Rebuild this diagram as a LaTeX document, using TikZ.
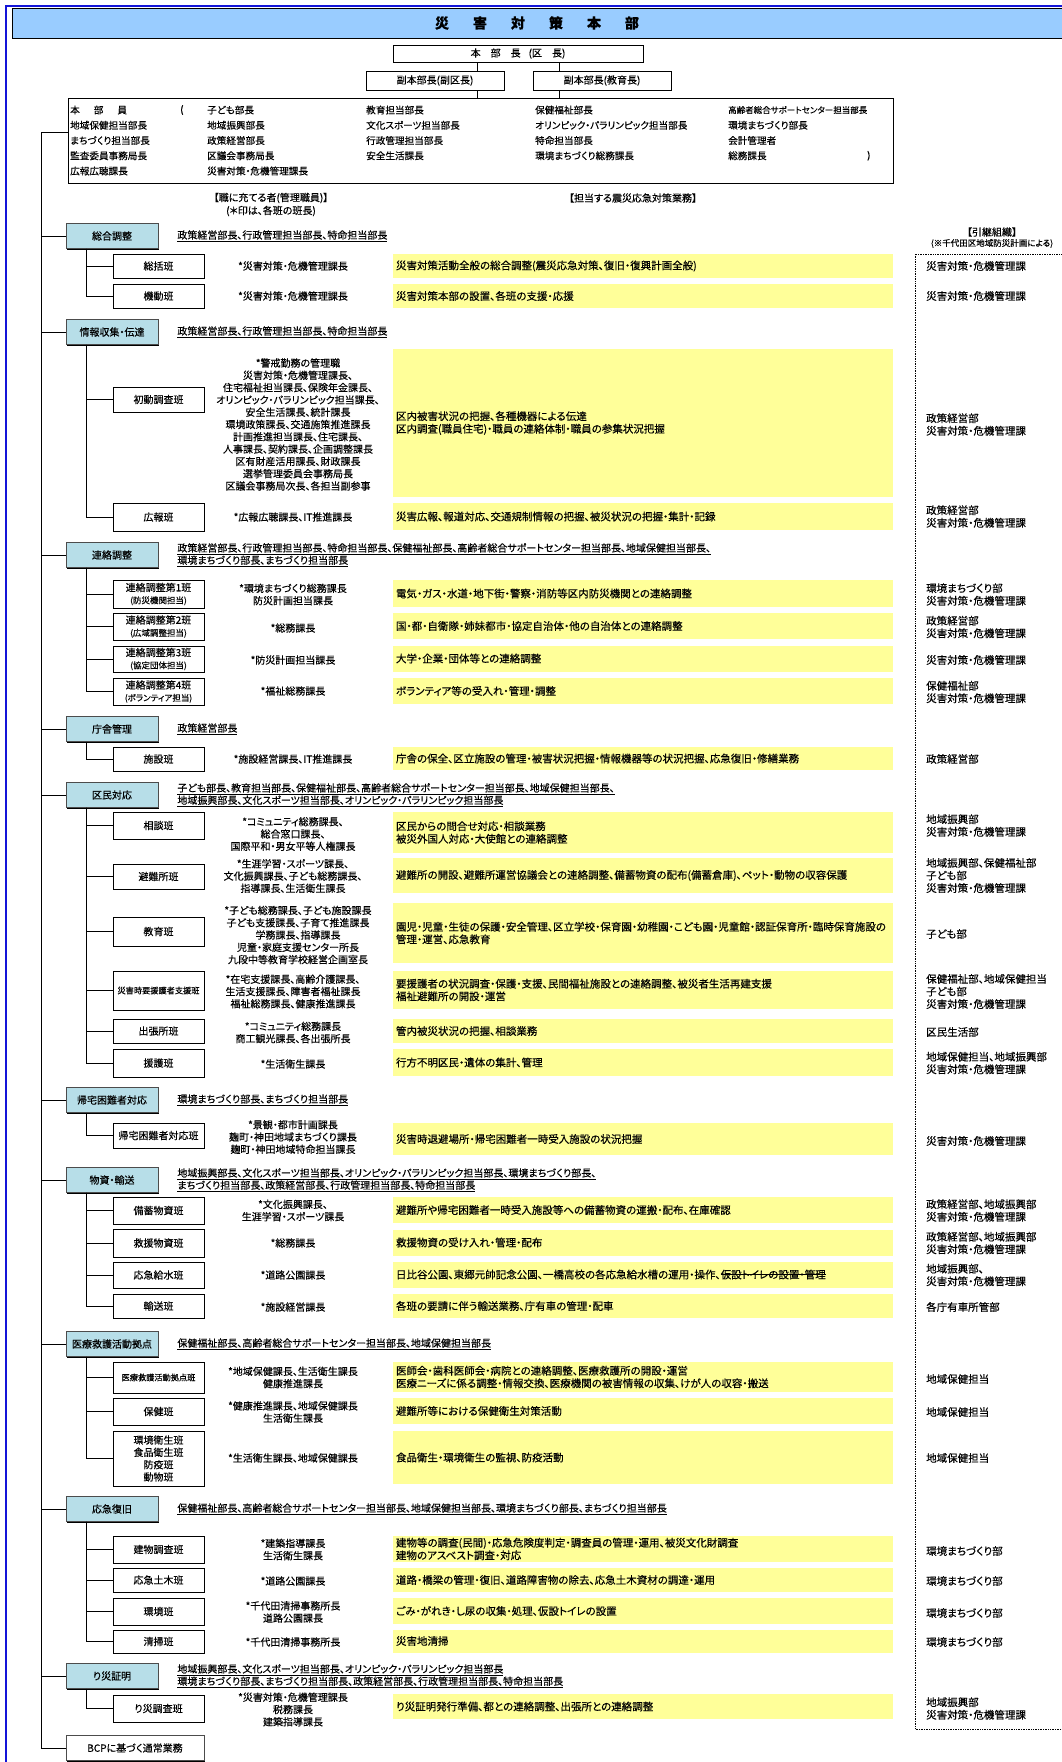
\documentclass[tikz,border=0pt]{standalone}
\usepackage{fontspec}
\setmainfont{Noto Sans CJK JP}[RawFeature=+palt, FakeBold=0.3]
\usetikzlibrary{positioning, shadows}
\definecolor{titleblue}{HTML}{99CCFF}
\definecolor{catblue}{HTML}{B7DEE8}
\definecolor{taskyellow}{HTML}{FFFF99}
\definecolor{framecol}{HTML}{1414D8}
\newcommand\fnorm{\fontsize{10}{12.3}\selectfont}
\newcommand\fwide{\fontsize{10.5}{12.6}\selectfont}
\newcommand\froster{\fontsize{9.6}{12}\selectfont}
\newcommand\fsml{\fontsize{8.5}{10.5}\selectfont}
\newcommand\ftny{\fontsize{8.2}{10}\selectfont}
\newcommand\strk[1]{\sbox0{#1}\rlap{\usebox0}\rule[0.33em]{\wd0}{0.6pt}}
\tikzset{
  boxshadow/.style={drop shadow={shadow xshift=1.3pt, shadow yshift=-1.3pt, fill=black, opacity=1}},
  titlebar/.style={draw=black, line width=0.8pt, fill=titleblue, minimum width=1050pt, minimum height=30pt, font=\fontsize{14}{16}\selectfont\bfseries},
  headbox/.style={draw=black, line width=0.7pt, fill=white, inner sep=0pt, font=\fnorm},
  memberbox/.style={draw=black, line width=0.8pt, fill=white, minimum width=825pt, minimum height=85pt, boxshadow},
  rostertext/.style={anchor=west, inner sep=0pt, font=\froster},
  catbox/.style={draw=black!70, fill=catblue, minimum width=92pt, minimum height=25pt, inner sep=0pt, font=\fnorm, boxshadow},
  teambox/.style={draw=black, line width=0.9pt, fill=white, minimum width=91pt, minimum height=#1, inner sep=1pt, align=center, font=\fnorm, boxshadow},
  teambox/.default=24pt,
  taskbox/.style={fill=taskyellow, text width=494pt, minimum height=#1, inner xsep=3pt, inner ysep=0pt, align=left, font=\fwide},
  taskbox/.default=24pt,
  leader/.style={align=center, inner sep=0pt, font=\fnorm},
  orgtext/.style={anchor=west, align=left, inner sep=0pt, font=\fwide},
  headline/.style={align=left, inner sep=0pt, font=\fnorm},
  tree/.style={line width=0.9pt},
}
\begin{document}
\begin{tikzpicture}[x=1pt, y=-1pt]
    \useasboundingbox (0,0) rectangle (1062,1762);
    \draw[framecol, line width=1.2pt] (6,1762) -- (6,6) -- (1062,6);

    % head office
    \node[titlebar] (title) at (537,23) {災\hspace{24pt}害\hspace{24pt}対\hspace{24pt}策\hspace{24pt}本\hspace{24pt}部};
    \node[headbox, minimum width=250pt, minimum height=17pt] at (518,53.5) (chief) {本\hspace{10pt}部\hspace{10pt}長\hspace{8pt}(区\hspace{10pt}長)};
    \node[headbox, minimum width=138pt, minimum height=19pt] at (435,80.5) (dep1) {副本部長(副区長)};
    \node[headbox, minimum width=138pt, minimum height=19pt] at (602,80.5) (dep2) {副本部長(教育長)};
    \node[memberbox] at (480.5,140.5) (members) {};

    \coordinate (v1) at (477,0);
    \coordinate (v2) at (559,0);
    \draw (chief.south -| v1) -- (dep1.north -| v1);
    \draw (dep1.south -| v1) -- (members.north -| v1);
    \draw (chief.south -| v2) -- (dep2.north -| v2);
    \draw (dep2.south -| v2) -- (members.north -| v2);

    \foreach \txt [count=\i] in {本\hspace{14pt}部\hspace{14pt}員, 地域保健担当部長, まちづくり担当部長, 監査委員事務局長, 広報広聴課長}
        \node[rostertext] (ra\i) at (70,{94.75+15.25*\i}) {\txt};
    \foreach \txt [count=\i] in {子ども部長, 地域振興部長, 政策経営部長, 区議会事務局長, 災害対策・危機管理課長}
        \node[rostertext] (rb\i) at (207,{94.75+15.25*\i}) {\txt};
    \foreach \txt [count=\i] in {教育担当部長, 文化スポーツ担当部長, 行政管理担当部長, 安全生活課長}
        \node[rostertext] (rc\i) at (366,{94.75+15.25*\i}) {\txt};
    \foreach \txt [count=\i] in {保健福祉部長, オリンピック・パラリンピック担当部長, 特命担当部長, 環境まちづくり総務課長}
        \node[rostertext] (rd\i) at (535,{94.75+15.25*\i}) {\txt};
    \foreach \txt [count=\i] in {{\fsml 高齢者総合サポートセンター担当部長}, 環境まちづくり部長, 会計管理者, 総務課長}
        \node[rostertext] (re\i) at (728,{94.75+15.25*\i}) {\txt};
    \node[rostertext] (lparen) at (180,110) {(};
    \node[rostertext] (rparen) at (867,155.75) {)};

    \node[leader] at (271,198) (post) {【職に充てる者(管理職員)】};
    \node[leader] at (271,211) (postnote) {(＊印は、各班の班長)};
    \node[leader] at (633,198) (duty) {【担当する震災応急対策業務】};
    \node[leader] at (992,232) (succ) {【引継組織】};
    \node[leader, font=\fsml] at (992,243.5) (succnote) {(※千代田区地域防災計画による)};
    \draw[densely dotted, line width=0.7pt] (1063,254) -| (915,1729) -- (1063,1729);

    % sections
    \node[catbox] at (112,236) (c1) {総合調整};
    \node[catbox] at (112,332) (c2) {情報収集・伝達};
    \node[catbox] at (112,555) (c3) {連絡調整};
    \node[catbox] at (112,729) (c4) {庁舎管理};
    \node[catbox] at (112,795) (c5) {区民対応};
    \node[catbox] at (112,1100) (c6) {帰宅困難者対応};
    \node[catbox] at (112,1180) (c7) {物資・輸送};
    \node[catbox] at (112,1344) (c8) {医療救護活動拠点};
    \node[catbox] at (112,1509) (c9) {応急復旧};
    \node[catbox] at (112,1676) (c10) {り災証明};
    \node[catbox, fill=white, minimum width=138pt] at (135,1748) (bcp) {BCPに基づく通常業務};

    \node[headline, right=19pt of c1] (h1) {\underline{政策経営部長、行政管理担当部長、特命担当部長}};
    \node[headline, right=19pt of c2] (h2) {\underline{政策経営部長、行政管理担当部長、特命担当部長}};
    \node[headline, right=19pt of c3] (h3) {\underline{政策経営部長、行政管理担当部長、特命担当部長、保健福祉部長、高齢者総合サポートセンター担当部長、地域保健担当部長、}\\\underline{環境まちづくり部長、まちづくり担当部長}};
    \node[headline, right=19pt of c4] (h4) {\underline{政策経営部長}};
    \node[headline, right=19pt of c5] (h5) {\underline{子ども部長、教育担当部長、保健福祉部長、高齢者総合サポートセンター担当部長、地域保健担当部長、}\\\underline{地域振興部長、文化スポーツ担当部長、オリンピック・パラリンピック担当部長}};
    \node[headline, right=19pt of c6] (h6) {\underline{環境まちづくり部長、まちづくり担当部長}};
    \node[headline, right=19pt of c7] (h7) {\underline{地域振興部長、文化スポーツ担当部長、オリンピック・パラリンピック担当部長、環境まちづくり部長、}\\\underline{まちづくり担当部長、政策経営部長、行政管理担当部長、特命担当部長}};
    \node[headline, right=19pt of c8] (h8) {\underline{保健福祉部長、高齢者総合サポートセンター担当部長、地域保健担当部長}};
    \node[headline, right=19pt of c9] (h9) {\underline{保健福祉部長、高齢者総合サポートセンター担当部長、地域保健担当部長、環境まちづくり部長、まちづくり担当部長}};
    \node[headline, right=19pt of c10] (h10) {\underline{地域振興部長、文化スポーツ担当部長、オリンピック・パラリンピック担当部長}\\\underline{環境まちづくり部長、まちづくり担当部長、政策経営部長、行政管理担当部長、特命担当部長}};

    % teams
    \node[teambox] at (158.5,266) (t1a) {総括班};
    \node[teambox] at (158.5,296) (t1b) {機動班};
    \node[teambox=25pt] at (158.5,399.5) (t2a) {初動調査班};
    \node[teambox=28pt] at (158.5,517) (t2b) {広報班};
    \node[teambox=28pt] at (158.5,594) (t3a) {連絡調整第1班\\{\fsml (防災機関担当)}};
    \node[teambox=27pt] at (158.5,626.5) (t3b) {連絡調整第2班\\{\fsml (広域調整担当)}};
    \node[teambox=26pt] at (158.5,659) (t3c) {連絡調整第3班\\{\fsml (協定団体担当)}};
    \node[teambox=27pt] at (158.5,691.5) (t3d) {連絡調整第4班\\{\fsml (ボランティア担当)}};
    \node[teambox] at (158.5,759) (t4a) {施設班};
    \node[teambox=27pt] at (158.5,825.5) (t5a) {相談班};
    \node[teambox=25pt] at (158.5,876.5) (t5b) {避難所班};
    \node[teambox=29pt] at (158.5,931.5) (t5c) {教育班};
    \node[teambox=39pt] at (158.5,990.5) (t5d) {{\ftny 災害時要援護者支援班}};
    \node[teambox] at (158.5,1031) (t5e) {出張所班};
    \node[teambox=28pt] at (158.5,1063) (t5f) {援護班};
    \node[teambox=25pt] at (158.5,1135.5) (t6a) {帰宅困難者対応班};
    \node[teambox=27pt] at (158.5,1210.5) (t7a) {備蓄物資班};
    \node[teambox=28pt] at (158.5,1243) (t7b) {救援物資班};
    \node[teambox=26pt] at (158.5,1275) (t7c) {応急給水班};
    \node[teambox] at (158.5,1306) (t7d) {輸送班};
    \node[teambox=31pt] at (158.5,1377.5) (t8a) {{\ftny 医療救護活動拠点班}};
    \node[teambox=27pt] at (158.5,1411.5) (t8b) {保健班};
    \node[teambox=55pt] at (158.5,1458.5) (t8c) {環境衛生班\\食品衛生班\\防疫班\\動物班};
    \node[teambox=27pt] at (158.5,1549.5) (t9a) {建物調査班};
    \node[teambox] at (158.5,1580) (t9b) {応急土木班};
    \node[teambox=27pt] at (158.5,1611.5) (t9c) {環境班};
    \node[teambox=23pt] at (158.5,1641.5) (t9d) {清掃班};
    \node[teambox=27pt] at (158.5,1708.5) (t10a) {り災調査班};

    % tree lines
    \coordinate (trunk) at (41,132);
    \draw[tree] (members.west |- trunk) -- (trunk) |- (bcp.west);
    \foreach \c in {c1,c2,c3,c4,c5,c6,c7,c8,c9,c10}
        \draw[tree] (trunk) |- (\c.west);
    \foreach \c/\t in {1/1a,1/1b,2/2a,2/2b,3/3a,3/3b,3/3c,3/3d,4/4a,5/5a,5/5b,5/5c,5/5d,5/5e,5/5f,6/6a,7/7a,7/7b,7/7c,7/7d,8/8a,8/8b,8/8c,9/9a,9/9b,9/9c,9/9d,10/10a}
        \draw[tree] ([xshift=21pt]c\c.south west) |- (t\t.west);

    % leaders
    \node[leader] at (293,266) (l1a) {*災害対策・危機管理課長};
    \node[leader] at (293,296) (l1b) {*災害対策・危機管理課長};
    \node[leader] at (298,424.5) (l2a) {*警戒勤務の管理職\\災害対策・危機管理課長、\\住宅福祉担当課長、保険年金課長、\\オリンピック・パラリンピック担当課長、\\安全生活課長、統計課長\\環境政策課長、交通施策推進課長\\計画推進担当課長、住宅課長、\\人事課長、契約課長、企画調整課長\\区有財産活用課長、財政課長\\選挙管理委員会事務局長\\区議会事務局次長、各担当副参事};
    \node[leader] at (293,517) (l2b) {*広報広聴課長、IT推進課長};
    \node[leader] at (293,594.5) (l3a) {*環境まちづくり総務課長\\防災計画担当課長};
    \node[leader] at (293,628) (l3b) {*総務課長};
    \node[leader] at (293,660) (l3c) {*防災計画担当課長};
    \node[leader] at (293,691) (l3d) {*福祉総務課長};
    \node[leader] at (293,759) (l4a) {*施設経営課長、IT推進課長};
    \node[leader] at (293,834) (l5a) {*コミュニティ総務課長、\\総合窓口課長、\\国際平和・男女平等人権課長};
    \node[leader] at (293,876) (l5b) {*生涯学習・スポーツ課長、\\文化振興課長、子ども総務課長、\\指導課長、生活衛生課長};
    \node[leader] at (298,935) (l5c) {*子ども総務課長、子ども施設課長\\子ども支援課長、子育て推進課長\\学務課長、指導課長\\児童・家庭支援センター所長\\九段中等教育学校経営企画室長};
    \node[leader] at (293,991.5) (l5d) {*在宅支援課長、高齢介護課長、\\生活支援課長、障害者福祉課長\\福祉総務課長、健康推進課長};
    \node[leader] at (293,1032.5) (l5e) {*コミュニティ総務課長\\商工観光課長、各出張所長};
    \node[leader] at (293,1064) (l5f) {*生活衛生課長};
    \node[leader] at (293,1137) (l6a) {*景観・都市計画課長\\麹町・神田地域まちづくり課長\\麹町・神田地域特命担当課長};
    \node[leader] at (293,1210.5) (l7a) {*文化振興課長、\\生涯学習・スポーツ課長};
    \node[leader] at (293,1243) (l7b) {*総務課長};
    \node[leader] at (293,1275) (l7c) {*道路公園課長};
    \node[leader] at (293,1307) (l7d) {*施設経営課長};
    \node[leader] at (293,1377.5) (l8a) {*地域保健課長、生活衛生課長\\健康推進課長};
    \node[leader] at (293,1412) (l8b) {*健康推進課長、地域保健課長\\生活衛生課長};
    \node[leader] at (293,1458) (l8c) {*生活衛生課長、地域保健課長};
    \node[leader] at (293,1549.5) (l9a) {*建築指導課長\\生活衛生課長};
    \node[leader] at (293,1581) (l9b) {*道路公園課長};
    \node[leader] at (293,1612) (l9c) {*千代田清掃事務所長\\道路公園課長};
    \node[leader] at (293,1642) (l9d) {*千代田清掃事務所長};
    \node[leader] at (293,1709.5) (l10a) {*災害対策・危機管理課長\\税務課長\\建築指導課長};

    % tasks
    \node[taskbox] at (643,266) (w1a) {災害対策活動全般の総合調整(震災応急対策、復旧・復興計画全般)};
    \node[taskbox] at (643,296) (w1b) {災害対策本部の設置、各班の支援・応援};
    \node[taskbox=148pt] at (643,423) (w2a) {区内被害状況の把握、各種機器による伝達\\区内調査(職員住宅)・職員の連絡体制・職員の参集状況把握};
    \node[taskbox=27pt] at (643,516.5) (w2b) {災害広報、報道対応、交通規制情報の把握、被災状況の把握・集計・記録};
    \node[taskbox=27pt] at (643,593.5) (w3a) {電気・ガス・水道・地下街・警察・消防等区内防災機関との連絡調整};
    \node[taskbox=26pt] at (643,626) (w3b) {国・都・自衛隊・姉妹都市・協定自治体・他の自治体との連絡調整};
    \node[taskbox=26pt] at (643,658.5) (w3c) {大学・企業・団体等との連絡調整};
    \node[taskbox=26pt] at (643,691) (w3d) {ボランティア等の受入れ・管理・調整};
    \node[taskbox=23pt] at (643,758.5) (w4a) {庁舎の保全、区立施設の管理・被害状況把握・情報機器等の状況把握、応急復旧・修繕業務};
    \node[taskbox=41pt] at (643,832.5) (w5a) {区民からの問合せ対応・相談業務\\被災外国人対応・大使館との連絡調整};
    \node[taskbox=35pt] at (643,875.5) (w5b) {避難所の開設、避難所運営協議会との連絡調整、備蓄物資の配布(備蓄倉庫)、ペット・動物の収容保護};
    \node[taskbox=60pt] at (643,933) (w5c) {園児・児童・生徒の保護・安全管理、区立学校・保育園・幼稚園・こども園・児童館・認証保育所・臨時保育施設の\\管理・運営、応急教育};
    \node[taskbox=38pt] at (643,990) (w5d) {要援護者の状況調査・保護・支援、民間福祉施設との連絡調整、被災者生活再建支援\\福祉避難所の開設・運営};
    \node[taskbox] at (643,1031) (w5e) {管内被災状況の把握、相談業務};
    \node[taskbox=27pt] at (643,1062.5) (w5f) {行方不明区民・遺体の集計、管理};
    \node[taskbox=32pt] at (643,1139) (w6a) {災害時退避場所・帰宅困難者一時受入施設の状況把握};
    \node[taskbox=26pt] at (643,1210) (w7a) {避難所や帰宅困難者一時受入施設等への備蓄物資の運搬・配布、在庫確認};
    \node[taskbox=26pt] at (643,1242.5) (w7b) {救援物資の受け入れ・管理・配布};
    \node[taskbox=26pt] at (643,1274.5) (w7c) {日比谷公園、東郷元帥記念公園、一橋高校の各応急給水槽の運用・操作、\strk{仮設トイレの設置・管理}};
    \node[taskbox] at (643,1306) (w7d) {各班の要請に伴う輸送業務、庁有車の管理・配車};
    \node[taskbox=30pt] at (643,1377) (w8a) {医師会・歯科医師会・病院との連絡調整、医療救護所の開設・運営\\医療ニーズに係る調整・情報交換、医療機関の被害情報の収集、けが人の収容・搬送};
    \node[taskbox=26pt] at (643,1411) (w8b) {避難所等における保健衛生対策活動};
    \node[taskbox=53pt] at (643,1457.5) (w8c) {食品衛生・環境衛生の監視、防疫活動};
    \node[taskbox=26pt] at (643,1549) (w9a) {建物等の調査(民間)・応急危険度判定・調査員の管理・運用、被災文化財調査\\建物のアスベスト調査・対応};
    \node[taskbox] at (643,1580) (w9b) {道路・橋梁の管理・復旧、道路障害物の除去、応急土木資材の調達・運用};
    \node[taskbox=26pt] at (643,1611) (w9c) {ごみ・がれき・し尿の収集・処理、仮設トイレの設置};
    \node[taskbox=23pt] at (643,1641) (w9d) {災害地清掃};
    \node[taskbox=25pt] at (643,1706.5) (w10a) {り災証明発行準備、都との連絡調整、出張所との連絡調整};

    % successor organisations
    \node[orgtext] at (926,266) (o1a) {災害対策・危機管理課};
    \node[orgtext] at (926,296) (o1b) {災害対策・危機管理課};
    \node[orgtext] at (926,424.5) (o2a) {政策経営部\\災害対策・危機管理課};
    \node[orgtext] at (926,516.5) (o2b) {政策経営部\\災害対策・危機管理課};
    \node[orgtext] at (926,594.5) (o3a) {環境まちづくり部\\災害対策・危機管理課};
    \node[orgtext] at (926,627) (o3b) {政策経営部\\災害対策・危機管理課};
    \node[orgtext] at (926,660) (o3c) {災害対策・危機管理課};
    \node[orgtext] at (926,692) (o3d) {保健福祉部\\災害対策・危機管理課};
    \node[orgtext] at (926,759) (o4a) {政策経営部};
    \node[orgtext] at (926,825.5) (o5a) {地域振興部\\災害対策・危機管理課};
    \node[orgtext] at (926,875.5) (o5b) {地域振興部、保健福祉部\\子ども部\\災害対策・危機管理課};
    \node[orgtext] at (926,934) (o5c) {子ども部};
    \node[orgtext] at (926,991.5) (o5d) {保健福祉部、地域保健担当\\子ども部\\災害対策・危機管理課};
    \node[orgtext] at (926,1032) (o5e) {区民生活部};
    \node[orgtext] at (926,1063) (o5f) {地域保健担当、地域振興部\\災害対策・危機管理課};
    \node[orgtext] at (926,1141) (o6a) {災害対策・危機管理課};
    \node[orgtext] at (926,1210.5) (o7a) {政策経営部、地域振興部\\災害対策・危機管理課};
    \node[orgtext] at (926,1243) (o7b) {政策経営部、地域振興部\\災害対策・危機管理課};
    \node[orgtext] at (926,1275) (o7c) {地域振興部、\\災害対策・危機管理課};
    \node[orgtext] at (926,1307) (o7d) {各庁有車所管部};
    \node[orgtext] at (926,1379) (o8a) {地域保健担当};
    \node[orgtext] at (926,1412) (o8b) {地域保健担当};
    \node[orgtext] at (926,1458) (o8c) {地域保健担当};
    \node[orgtext] at (926,1551) (o9a) {環境まちづくり部};
    \node[orgtext] at (926,1581) (o9b) {環境まちづくり部};
    \node[orgtext] at (926,1613) (o9c) {環境まちづくり部};
    \node[orgtext] at (926,1642) (o9d) {環境まちづくり部};
    \node[orgtext] at (926,1708.5) (o10a) {地域振興部\\災害対策・危機管理課};
\end{tikzpicture}
\end{document}
